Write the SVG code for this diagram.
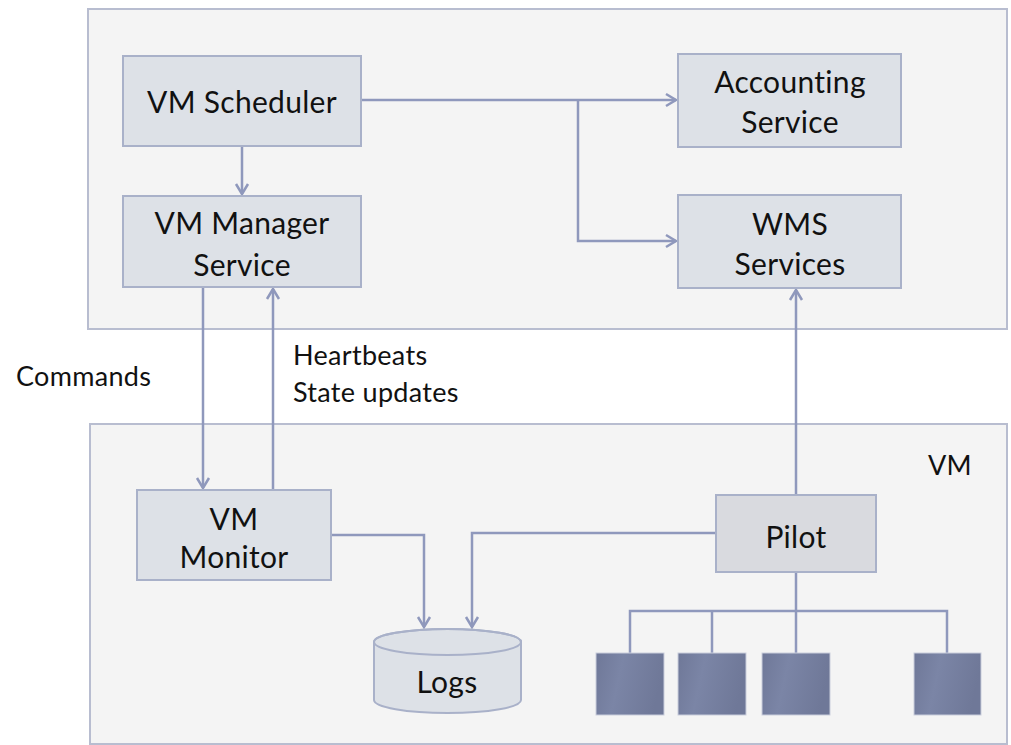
<svg xmlns="http://www.w3.org/2000/svg" width="1011" height="745" viewBox="0 0 1011 745">
<style>
.cont{fill:#f4f4f4;stroke:#b8bdd0;stroke-width:2}
.box{fill:#dde1e7;stroke:#a9b1c9;stroke-width:2}
.pilot{fill:#d9dadf;stroke:#a9b1c9;stroke-width:2}
.t{font-family:Lato,"Open Sans",sans-serif;font-size:30px;fill:#111;text-anchor:middle;letter-spacing:0.3px}
.lbl{font-family:Lato,"Open Sans",sans-serif;font-size:27px;fill:#111;letter-spacing:0.3px}
.c{fill:none;stroke:#8f98bc;stroke-width:2.5}
.sq{fill:url(#g);stroke:#c9cddb;stroke-width:1}
</style>
<defs>
<marker id="a" markerWidth="16" markerHeight="16" refX="12" refY="8" orient="auto" markerUnits="userSpaceOnUse">
<path d="M2,2 L12,8 L2,14" fill="none" stroke="#8f98bc" stroke-width="2.5"/>
</marker>
<linearGradient id="g" x1="0" y1="0" x2="1" y2="0.2">
<stop offset="0" stop-color="#6f7898"/>
<stop offset="0.4" stop-color="#7b85a6"/>
<stop offset="1" stop-color="#6f7898"/>
</linearGradient>
</defs>
<rect width="1011" height="745" fill="#fff"/>
<rect class="cont" x="88" y="9" width="919" height="320"/>
<rect class="cont" x="90" y="424" width="917" height="320"/>
<text class="lbl" x="928" y="475">VM</text>
<g id="connectors">
<path class="c" d="M242,146 V194" marker-end="url(#a)"/>
<path class="c" d="M361,100 H676" marker-end="url(#a)"/>
<path class="c" d="M578,100 V241 H676" marker-end="url(#a)"/>
<path class="c" d="M203,287 V488" marker-end="url(#a)"/>
<path class="c" d="M273,490 V289" marker-end="url(#a)"/>
<path class="c" d="M331,535 H424 V627" marker-end="url(#a)"/>
<path class="c" d="M716,533 H472 V627" marker-end="url(#a)"/>
<path class="c" d="M796,495 V290" marker-end="url(#a)"/>
<path class="c" d="M796,572 V611 M630,653 V611 H947 V653 M712,611 V653 M796,611 V653"/>
</g>
<g id="vm-scheduler"><rect class="box" x="123" y="56" width="238" height="90"/><text class="t" x="242" y="113">VM Scheduler</text></g>
<g id="vm-manager"><rect class="box" x="123" y="196" width="238" height="91"/><text class="t" x="242" y="234">VM Manager</text><text class="t" x="242" y="276">Service</text></g>
<g id="accounting"><rect class="box" x="678" y="54" width="223" height="93"/><text class="t" x="790" y="93">Accounting</text><text class="t" x="790" y="133">Service</text></g>
<g id="wms"><rect class="box" x="678" y="195" width="223" height="93"/><text class="t" x="790" y="235">WMS</text><text class="t" x="790" y="275">Services</text></g>
<g id="commands"><text class="lbl" x="16" y="386">Commands</text></g>
<g id="heartbeats"><text class="lbl" x="293" y="365">Heartbeats</text><text class="lbl" x="293" y="402">State updates</text></g>
<g id="vm-monitor"><rect class="box" x="137" y="490" width="194" height="90"/><text class="t" x="234" y="530">VM</text><text class="t" x="234" y="568">Monitor</text></g>
<g id="logs"><path class="box" d="M374,642 V700 A73.5,13 0 0 0 521,700 V642 A73.5,13 0 0 0 374,642 Z"/><ellipse cx="447.5" cy="642" rx="73.5" ry="13" fill="none" stroke="#a9b1c9" stroke-width="2"/><text class="t" x="447" y="693">Logs</text></g>
<g id="pilot"><rect class="pilot" x="716" y="495" width="160" height="77"/><text class="t" x="796" y="548">Pilot</text></g>
<g id="workers">
<rect class="sq" x="596" y="653" width="68" height="62"/>
<rect class="sq" x="678" y="653" width="68" height="62"/>
<rect class="sq" x="762" y="653" width="68" height="62"/>
<rect class="sq" x="914" y="653" width="67" height="62"/>
</g>
</svg>
